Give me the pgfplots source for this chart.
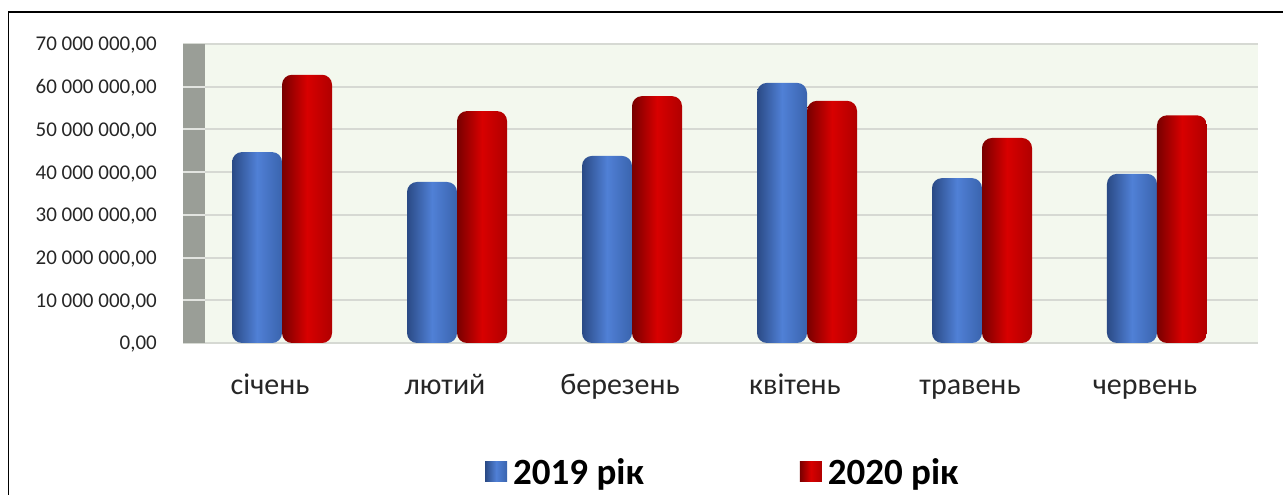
\documentclass[border=0pt]{standalone}
\usepackage{pgfplots}
\usepackage{pgfplotstable}
\pgfplotsset{compat=1.18}
\usepackage{fontspec}
\setmainfont{Carlito}

\definecolor{bgplot}{HTML}{F3F8EE}
\definecolor{gridc}{HTML}{D6D9D3}
\definecolor{wallc}{HTML}{9A9E97}
\definecolor{blueL}{HTML}{2A4A85}
\definecolor{blueM}{HTML}{5080D6}
\definecolor{blueR}{HTML}{3A64AE}
\definecolor{redL}{HTML}{780000}
\definecolor{redM}{HTML}{D80000}
\definecolor{redR}{HTML}{B00000}

% monthly totals, millions
\pgfplotstableread{
x  y2019  y2020
0  44.7   62.8
1  37.7   54.3
2  43.8   57.8
3  60.9   56.7
4  38.6   48.0
5  39.6   53.3
}\sums

% left/right first: setting right color resets the middle one
\tikzset{
  bar2019/.style={draw=none, shading=axis, left color=blueL, right color=blueR, middle color=blueM},
  bar2020/.style={draw=none, shading=axis, left color=redL, right color=redR, middle color=redM},
}

\begin{document}
\begin{tikzpicture}
% outer frame, only left and top edges are visible
\draw[line width=1.3pt] (8.5pt,-20pt) -- (8.5pt,483pt) -- (1310pt,483pt);

\begin{axis}[
    at={(183pt,152pt)}, anchor=south west,
    width=1075pt, height=299pt, scale only axis,
    xmin=-0.566, xmax=5.577,
    ymin=0, ymax=70,
    ybar, bar width=50pt,
    axis background/.style={fill=bgplot},
    axis line style={draw=none},
    major tick length=0pt,
    xtick={0,1,2,3,4,5},
    xticklabels={січень,лютий,березень,квітень,травень,червень},
    xticklabel style={anchor=base, inner sep=0pt, yshift=-52pt, xshift=-12pt,
        font=\fontsize{30}{32}\selectfont, text=black!85},
    ytick={0,10,20,30,40,50,60,70},
    yticklabels={{0,00},{10 000 000,00},{20 000 000,00},{30 000 000,00},
        {40 000 000,00},{50 000 000,00},{60 000 000,00},{70 000 000,00}},
    yticklabel style={anchor=base east, inner sep=0pt, xshift=-26pt, yshift=-7pt,
        font=\fontsize{21}{23}\selectfont, text=black!85},
    ymajorgrids=true,
    grid style={gridc, line width=2pt},
    legend columns=2,
    legend style={at={(0.504,-0.431)}, anchor=center, draw=none, fill=none,
        font=\bfseries\fontsize{37}{39}\selectfont,
        /tikz/every even column/.append style={column sep=150pt},
        nodes={inner ysep=3pt, inner xsep=6pt}},
    legend image code/.code={\fill[#1] (0pt,-10pt) rectangle (22pt,10pt);},
]
% side wall on the left of the plot area
\fill[wallc] (axis cs:-0.566,0) rectangle (axis cs:-0.44,70);
\pgfplotsinvokeforeach{10,20,30,40,50,60}{
    \draw[gridc!70!white, line width=2pt] (axis cs:-0.566,#1) -- (axis cs:-0.44,#1);
}
% one path per bar so every bar gets its own cylinder shading
\pgfplotsinvokeforeach{0,1,2,3,4,5}{
    \addplot[bar2019, rounded corners=10pt, bar shift=-25pt, forget plot,
        restrict x to domain=#1:#1] table[x=x, y=y2019] {\sums};
    \addplot[bar2020, rounded corners=10pt, bar shift=25pt, forget plot,
        restrict x to domain=#1:#1] table[x=x, y=y2020] {\sums};
}
\addlegendimage{bar2019}
\addlegendentry{2019 рік}
\addlegendimage{bar2020}
\addlegendentry{2020 рік}
\end{axis}
\pgfresetboundingbox
\useasboundingbox (0pt,0pt) rectangle (1283pt,495pt);
\end{tikzpicture}
\end{document}
